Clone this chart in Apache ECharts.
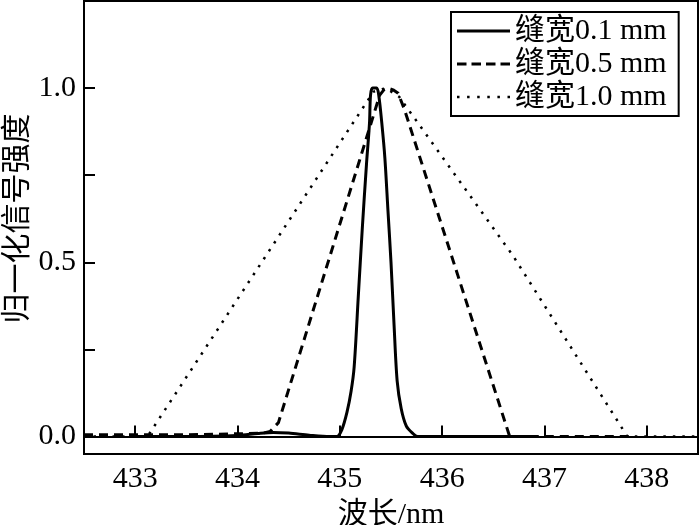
<!DOCTYPE html>
<html>
<head>
<meta charset="utf-8">
<script src="https://cdn.jsdelivr.net/npm/echarts@6/dist/echarts.min.js"></script>
<style>html,body{margin:0;padding:0;background:#fff;}#c{width:700px;height:525px;}</style>
</head>
<body>
<div id="c"></div>
<script>
// ---- data ----
var seriesNames = ['缝宽0.1 mm', '缝宽0.5 mm', '缝宽1.0 mm'];
var xTickLabels = [433, 434, 435, 436, 437, 438];
var yTickLabels = [0.0, 0.5, 1.0];
var yTicks = [0, 0.25, 0.5, 0.75, 1.0];

var w01 = [433.0, 433.5, 434.0, 434.2, 434.35, 434.5, 434.7, 434.9, 434.97, 435.02, 435.07, 435.11, 435.14, 435.18, 435.22, 435.26, 435.29, 435.30, 435.32, 435.36, 435.38, 435.41, 435.44, 435.47, 435.50, 435.53, 435.56, 435.60, 435.65, 435.71, 435.76, 436.2, 436.88];
var v01 = [0.0, 0.0, 0.003, 0.009, 0.012, 0.01, 0.004, 0.0, 0.0, 0.02, 0.07, 0.13, 0.2, 0.4, 0.6, 0.78, 0.9, 0.98, 1.0, 1.0, 0.98, 0.9, 0.8, 0.65, 0.5, 0.32, 0.16, 0.08, 0.03, 0.01, 0.0, 0.0, 0.0];

var w05 = [432.5, 433.0, 433.5, 434.0, 434.25, 434.32, 434.4, 435.39, 435.43, 435.47, 435.52, 435.57, 435.63, 436.66, 436.75, 437.0, 437.5, 437.83];
var v05 = [0.005, 0.005, 0.005, 0.008, 0.01, 0.015, 0.04, 0.98, 0.995, 1.0, 0.995, 0.985, 0.94, 0.0, 0.0, 0.0, 0.0, 0.0];

var w10 = [432.5, 433.12, 435.05, 435.33, 435.45, 435.58, 436.69, 437.81, 438.5];
var v10 = [0.0, 0.0, 0.865, 0.99, 1.0, 0.975, 0.52, 0.0, 0.0];

function pairs(xs, ys) { return xs.map(function (x, i) { return [x, ys[i]]; }); }

var FONT = '"Liberation Serif", "Times New Roman", "Noto Sans CJK SC", serif';

var iconSolid = 'path://M0,0H53V3H0Z';
var iconDash = 'path://M0,0H9.5V3H0Z M14.5,0H24V3H14.5Z M29,0H38.5V3H29Z M43.5,0H53V3H43.5Z';
var iconDot = 'path://M0,0.25H2.5V2.75H0Z M10.1,0.25H12.6V2.75H10.1Z M20.2,0.25H22.7V2.75H20.2Z M30.3,0.25H32.8V2.75H30.3Z M40.4,0.25H42.9V2.75H40.4Z M50.5,0.25H53V2.75H50.5Z';

var chart = echarts.init(document.getElementById('c'), null, { renderer: 'canvas' });
chart.setOption({
  animation: false,
  backgroundColor: '#fff',
  grid: { left: 84, right: 2, top: 1, bottom: 71, show: true, borderColor: '#000', borderWidth: 2,
    backgroundColor: 'transparent', containLabel: false, outerBoundsMode: 'none' },
  legend: {
    left: 451, top: 12, orient: 'vertical',
    padding: [4, 12, 4, 6],
    borderColor: '#000', borderWidth: 2,
    itemWidth: 53, itemHeight: 3, itemGap: 3,
    textStyle: { fontFamily: FONT, fontSize: 30, color: '#000', lineHeight: 30 },
    data: [
      { name: seriesNames[0], icon: iconSolid, itemStyle: { color: '#000' } },
      { name: seriesNames[1], icon: iconDash, itemStyle: { color: '#000' } },
      { name: seriesNames[2], icon: iconDot, itemStyle: { color: '#000' } }
    ]
  },
  xAxis: {
    type: 'value', min: 432.5, max: 438.5,
    name: '波长/nm', nameLocation: 'middle', nameGap: 46, nameMoveOverlap: false,
    nameTextStyle: { fontFamily: FONT, fontSize: 30, color: '#000' },
    axisLine: { show: true, lineStyle: { color: '#000', width: 2 } },
    axisTick: { show: true, inside: true, length: 11, lineStyle: { color: '#000', width: 2 }, customValues: xTickLabels },
    axisLabel: { color: '#000', fontFamily: FONT, fontSize: 30, margin: 10, customValues: xTickLabels },
    splitLine: { show: false }
  },
  yAxis: {
    type: 'value', min: -0.05, max: 1.25,
    name: '归一化信号强度', nameLocation: 'middle', nameGap: 51, nameMoveOverlap: false,
    nameTextStyle: { fontFamily: FONT, fontSize: 30, color: '#000', padding: [0, 0, 0, 18] },
    axisLine: { show: true, lineStyle: { color: '#000', width: 2 } },
    axisTick: { show: true, inside: true, length: 11, lineStyle: { color: '#000', width: 2 }, customValues: yTicks },
    axisLabel: { color: '#000', fontFamily: FONT, fontSize: 30, margin: 8, customValues: yTickLabels,
      formatter: function (v) { return v.toFixed(1); } },
    splitLine: { show: false }
  },
  series: [
    { name: seriesNames[0], type: 'line', data: pairs(w01, v01), symbol: 'none', smooth: 0.3, z: 5,
      lineStyle: { color: '#000', width: 3, type: 'solid' }, itemStyle: { color: '#000' } },
    { name: seriesNames[1], type: 'line', data: pairs(w05, v05), symbol: 'none', z: 4,
      lineStyle: { color: '#000', width: 3, type: [9, 6] }, itemStyle: { color: '#000' } },
    { name: seriesNames[2], type: 'line', data: pairs(w10, v10), symbol: 'none', z: 3,
      lineStyle: { color: '#000', width: 2.5, type: [2.5, 7] }, itemStyle: { color: '#000' } }
  ]
});
</script>
</body>
</html>
